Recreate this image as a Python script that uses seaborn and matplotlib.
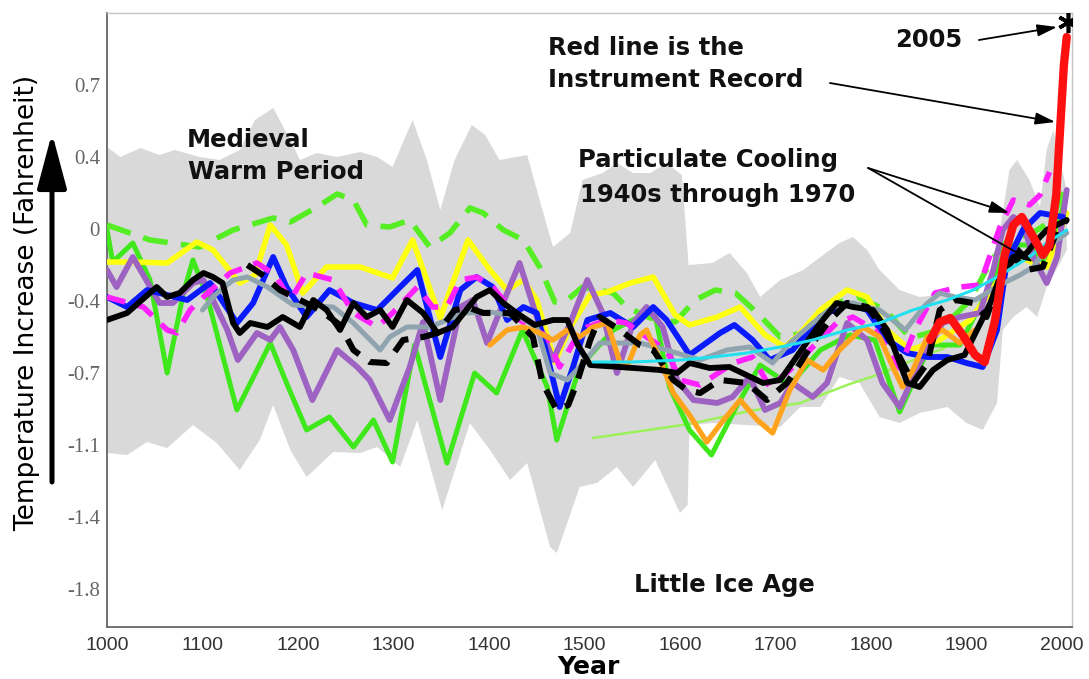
import numpy as np
import pandas as pd
import matplotlib
matplotlib.use("Agg")
import matplotlib.pyplot as plt
import seaborn as sns

sns.set_style("white")
plt.rcParams['font.family'] = ['DejaVu Sans']

# ---------------- data (year, temperature anomaly in deg F) ----------------
band_upper_years = [1000, 1014, 1035, 1055, 1071, 1097, 1118, 1139, 1155, 1174, 1192, 1202, 1220, 1241,
                    1265, 1283, 1299, 1320, 1335, 1349, 1364, 1382, 1396, 1411, 1440, 1453, 1467, 1485,
                    1498, 1519, 1534, 1551, 1569, 1586, 1602, 1609, 1634, 1652, 1670, 1684, 1705, 1729,
                    1747, 1767, 1781, 1796, 1809, 1830, 1851, 1872, 1893, 1914, 1928, 1935, 1945, 1953,
                    1966, 1977, 1984, 1991, 2005]
band_upper_temp = [0.41, 0.36, 0.405, 0.37, 0.395, 0.36, 0.345, 0.395, 0.545, 0.605, 0.445, 0.345, 0.38, 0.36,
                   0.385, 0.36, 0.31, 0.545, 0.345, 0.095, 0.345, 0.52, 0.47, 0.345, 0.37, 0.145, -0.09, -0.02,
                   0.245, 0.28, 0.33, 0.28, 0.28, 0.33, 0.27, -0.18, -0.17, -0.12, -0.22, -0.34, -0.255, -0.205,
                   -0.14, -0.07, -0.04, -0.105, -0.205, -0.305, -0.34, -0.33, -0.355, -0.355, -0.27, -0.005, 0.295, 0.345,
                   0.245, 0.11, 0.395, 0.495, 0.195]
band_lower_years = [1000, 1021, 1042, 1063, 1090, 1115, 1139, 1160, 1174, 1192, 1209, 1237, 1265, 1283,
                    1307, 1325, 1351, 1380, 1401, 1422, 1440, 1464, 1471, 1495, 1513, 1534, 1551, 1574,
                    1600, 1608, 1610, 1634, 1705, 1726, 1747, 1767, 1788, 1809, 1830, 1851, 1880, 1900,
                    1917, 1932, 1938, 1949, 1963, 1974, 1984, 1998, 2005]
band_lower_temp = [-1.12, -1.13, -1.065, -1.095, -0.98, -1.07, -1.205, -1.055, -0.88, -1.105, -1.24, -1.115, -1.12, -1.09,
                   -1.19, -0.955, -1.405, -0.97, -1.105, -1.255, -1.17, -1.59, -1.62, -1.29, -1.27, -1.19, -1.29, -1.155,
                   -1.42, -1.38, -0.98, -0.97, -0.99, -0.89, -0.89, -0.74, -0.77, -0.94, -0.97, -0.92, -0.89, -0.97,
                   -1.005, -0.87, -0.505, -0.44, -0.39, -0.44, -0.29, -0.17, -0.105]

green_solid_years = [1000, 1006, 1027, 1045, 1063, 1080, 1090, 1105, 1136, 1157, 1171, 1188, 1209, 1233, 1258,
                     1279, 1299, 1322, 1356, 1385, 1408, 1435, 1461, 1471, 1495, 1530, 1561, 1574, 1589, 1610,
                     1633, 1660, 1684, 1715, 1747, 1778, 1804, 1830, 1862, 1893, 1925, 1943, 1966, 1984, 2003]
green_solid_temp = [-0.005, -0.165, -0.07, -0.255, -0.72, -0.32, -0.155, -0.34, -0.905, -0.705, -0.57, -0.77, -1.005, -0.94, -1.09,
                    -0.955, -1.165, -0.58, -1.17, -0.72, -0.82, -0.505, -0.79, -1.055, -0.69, -0.505, -0.43, -0.43, -0.79, -1.005,
                    -1.13, -0.88, -0.68, -0.78, -0.605, -0.53, -0.555, -0.915, -0.58, -0.58, -0.28, -0.08, -0.08, -0.18, 0.145]

green_dash_years = [1000, 1045, 1097, 1132, 1174, 1192, 1220, 1241, 1258, 1272, 1296, 1317, 1338, 1359, 1380,
                    1394, 1415, 1436, 1453, 1469, 1482, 1498, 1530, 1544, 1569, 1595, 1616, 1637, 1658, 1681,
                    1705, 1731, 1757, 1786, 1815, 1841, 1872, 1904, 1925, 1945, 1966, 1987, 2003]
green_dash_temp = [0.02, -0.055, -0.09, -0.005, 0.055, 0.035, 0.11, 0.175, 0.145, 0.02, 0.01, 0.045, -0.09, -0.02, 0.105,
                   0.08, -0.005, -0.055, -0.19, -0.365, -0.355, -0.29, -0.32, -0.39, -0.445, -0.465, -0.355, -0.305, -0.32, -0.42,
                   -0.54, -0.52, -0.38, -0.34, -0.405, -0.545, -0.505, -0.355, -0.165, -0.045, -0.03, 0.035, 0.195]

yellow_years = [1000, 1027, 1063, 1094, 1111, 1139, 1155, 1171, 1188, 1205, 1230, 1265, 1299, 1320, 1349,
                1378, 1401, 1419, 1436, 1450, 1469, 1485, 1506, 1524, 1548, 1572, 1595, 1610, 1639, 1663,
                1689, 1710, 1726, 1747, 1775, 1796, 1817, 1841, 1872, 1904, 1930, 1951, 1970, 1984, 2005]
yellow_temp = [-0.165, -0.165, -0.17, -0.065, -0.105, -0.27, -0.23, 0.02, -0.08, -0.32, -0.19, -0.19, -0.245, -0.055, -0.445,
               -0.055, -0.205, -0.305, -0.255, -0.355, -0.665, -0.49, -0.33, -0.315, -0.27, -0.24, -0.43, -0.48, -0.44, -0.39,
               -0.53, -0.59, -0.52, -0.405, -0.305, -0.34, -0.505, -0.605, -0.555, -0.455, -0.28, -0.13, -0.17, -0.19, 0.08]

blue_years = [1000, 1021, 1042, 1084, 1108, 1118, 1136, 1153, 1174, 1188, 1209, 1233, 1258, 1283, 1307,
              1325, 1349, 1370, 1387, 1404, 1419, 1436, 1450, 1474, 1488, 1503, 1527, 1551, 1572, 1586,
              1610, 1642, 1657, 1676, 1694, 1718, 1747, 1775, 1796, 1817, 1838, 1859, 1880, 1900, 1917,
              1932, 1942, 1959, 1977, 2001]
blue_temp = [-0.34, -0.39, -0.305, -0.355, -0.27, -0.34, -0.47, -0.37, -0.14, -0.29, -0.44, -0.305, -0.37, -0.405, -0.29,
             -0.205, -0.64, -0.305, -0.24, -0.29, -0.455, -0.39, -0.42, -0.89, -0.69, -0.455, -0.42, -0.49, -0.39, -0.455,
             -0.63, -0.52, -0.48, -0.555, -0.655, -0.605, -0.44, -0.37, -0.405, -0.555, -0.62, -0.64, -0.64, -0.67, -0.69,
             -0.505, -0.17, -0.005, 0.08, 0.06]

magenta_years = [1000, 1038, 1063, 1073, 1087, 1101, 1129, 1157, 1176, 1192, 1209, 1237, 1258, 1283, 1299,
                 1325, 1341, 1356, 1370, 1387, 1404, 1432, 1461, 1474, 1488, 1503, 1524, 1544, 1565, 1586,
                 1600, 1621, 1656, 1676, 1694, 1715, 1739, 1764, 1781, 1804, 1830, 1846, 1867, 1893, 1914,
                 1935, 1949, 1966, 1977, 1987]
magenta_temp = [-0.34, -0.39, -0.505, -0.52, -0.405, -0.34, -0.22, -0.17, -0.23, -0.355, -0.22, -0.255, -0.42, -0.49, -0.42,
                -0.29, -0.39, -0.39, -0.255, -0.24, -0.29, -0.455, -0.54, -0.69, -0.57, -0.49, -0.455, -0.47, -0.54, -0.605,
                -0.755, -0.78, -0.67, -0.64, -0.79, -0.705, -0.59, -0.47, -0.44, -0.505, -0.695, -0.505, -0.32, -0.29, -0.28,
                0.01, 0.145, 0.12, 0.17, 0.285]

purple_years = [1000, 1010, 1027, 1055, 1069, 1090, 1101, 1126, 1137, 1157, 1171, 1181, 1195, 1215, 1241,
                1262, 1275, 1296, 1317, 1331, 1349, 1370, 1383, 1398, 1419, 1432, 1451, 1467, 1485, 1503,
                1519, 1534, 1551, 1565, 1582, 1597, 1614, 1639, 1655, 1673, 1689, 1705, 1718, 1739, 1754,
                1775, 1796, 1812, 1830, 1851, 1875, 1893, 1914, 1928, 1938, 1949, 1959, 1970, 1984, 1995, 2005]
purple_temp = [-0.205, -0.29, -0.14, -0.37, -0.37, -0.27, -0.255, -0.505, -0.655, -0.52, -0.555, -0.49, -0.605, -0.855, -0.605,
               -0.69, -0.755, -0.955, -0.69, -0.465, -0.855, -0.39, -0.355, -0.57, -0.32, -0.17, -0.455, -0.655, -0.47, -0.255,
               -0.42, -0.72, -0.47, -0.39, -0.49, -0.755, -0.855, -0.87, -0.84, -0.74, -0.905, -0.87, -0.77, -0.84, -0.77,
               -0.47, -0.555, -0.77, -0.89, -0.67, -0.47, -0.44, -0.42, -0.205, -0.005, 0.06, 0.03, -0.14, -0.27, -0.14, 0.195]

slate_years = [1100, 1113, 1132, 1147, 1168, 1195, 1237, 1258, 1286, 1296, 1314, 1338, 1356, 1373, 1401,
               1432, 1450, 1464, 1482, 1495, 1516, 1558, 1586, 1621, 1649, 1673, 1697, 1715, 1739, 1760,
               1781, 1809, 1836, 1857, 1872, 1888, 1909, 1935, 1956, 1970, 1984, 2005]
slate_temp = [-0.405, -0.33, -0.255, -0.24, -0.29, -0.38, -0.39, -0.47, -0.605, -0.54, -0.49, -0.49, -0.455, -0.42, -0.415,
              -0.44, -0.49, -0.72, -0.755, -0.69, -0.57, -0.57, -0.605, -0.655, -0.605, -0.59, -0.67, -0.57, -0.47, -0.39,
              -0.37, -0.405, -0.505, -0.38, -0.32, -0.34, -0.355, -0.28, -0.23, -0.19, -0.09, -0.02]

orange_years = [1401, 1419, 1436, 1453, 1467, 1482, 1495, 1509, 1524, 1537, 1544, 1558, 1565, 1579, 1593,
                1610, 1628, 1644, 1663, 1681, 1697, 1715, 1733, 1750, 1767, 1792, 1809, 1823, 1833, 1844,
                1859, 1875, 1893, 1909]
orange_temp = [-0.58, -0.505, -0.49, -0.52, -0.555, -0.505, -0.54, -0.49, -0.47, -0.665, -0.695, -0.53, -0.505, -0.655, -0.82,
               -0.93, -1.065, -0.965, -0.855, -0.955, -1.02, -0.805, -0.655, -0.705, -0.605, -0.49, -0.54, -0.69, -0.79, -0.705,
               -0.54, -0.505, -0.57, -0.505]

black_years = [1000, 1021, 1052, 1063, 1076, 1090, 1101, 1111, 1121, 1132, 1139, 1150, 1168, 1184, 1202,
               1216, 1230, 1244, 1258, 1272, 1286, 1299, 1314, 1331, 1346, 1362, 1387, 1401, 1415, 1429,
               1448, 1467, 1482, 1493, 1506, 1537, 1579, 1597, 1610, 1631, 1652, 1687, 1705, 1722, 1747,
               1764, 1781, 1802, 1817, 1838, 1851, 1865, 1880, 1898, 1925, 1935, 1949, 1963, 1974, 1984, 2005]
black_temp = [-0.455, -0.42, -0.29, -0.34, -0.32, -0.255, -0.22, -0.24, -0.27, -0.47, -0.52, -0.47, -0.49, -0.44, -0.49,
              -0.355, -0.405, -0.505, -0.37, -0.44, -0.405, -0.49, -0.355, -0.42, -0.52, -0.49, -0.34, -0.305, -0.37, -0.42,
              -0.48, -0.455, -0.455, -0.58, -0.68, -0.69, -0.705, -0.72, -0.67, -0.695, -0.69, -0.77, -0.755, -0.64, -0.47,
              -0.37, -0.39, -0.405, -0.505, -0.77, -0.79, -0.705, -0.655, -0.63, -0.37, -0.24, -0.155, -0.12, -0.055, -0.005, 0.045]

black_dash_years = [1147, 1163, 1181, 1202, 1223, 1244, 1258, 1275, 1293, 1310, 1331, 1346, 1364, 1380, 1394,
                    1422, 1446, 1456, 1471, 1483, 1492, 1506, 1516, 1537, 1558, 1572, 1593, 1607, 1621, 1642,
                    1670, 1691, 1712, 1726, 1739, 1757, 1775, 1796, 1809, 1830, 1844, 1859, 1872, 1888, 1907,
                    1921, 1935, 1949, 1963, 1980, 1995, 2005]
black_dash_temp = [-0.18, -0.23, -0.305, -0.355, -0.405, -0.48, -0.605, -0.665, -0.67, -0.555, -0.54, -0.52, -0.405, -0.395, -0.42,
                   -0.42, -0.54, -0.77, -0.905, -0.88, -0.77, -0.555, -0.44, -0.505, -0.58, -0.605, -0.755, -0.805, -0.82, -0.755,
                   -0.77, -0.855, -0.77, -0.67, -0.57, -0.455, -0.37, -0.39, -0.47, -0.64, -0.77, -0.67, -0.405, -0.355, -0.37,
                   -0.44, -0.255, -0.14, -0.205, -0.19, -0.005, 0.045]

cyan_years = [1509, 1551, 1600, 1635, 1670, 1705, 1739, 1775, 1809, 1844, 1880, 1907, 1932, 1949, 1966, 1984, 2005]
cyan_temp = [-0.665, -0.665, -0.655, -0.64, -0.62, -0.59, -0.555, -0.505, -0.47, -0.405, -0.355, -0.305, -0.24, -0.19, -0.14, -0.07, -0.005]

lightgreen_years = [1509, 1610, 1673, 1726, 1775, 1809, 1844, 1877]
lightgreen_temp = [-1.045, -0.975, -0.91, -0.87, -0.78, -0.725, -0.655, -0.595]

red_years = [1862, 1872, 1883, 1896, 1909, 1919, 1930, 1940, 1949, 1958, 1970, 1980, 1987, 1994, 1998, 2002, 2005]
red_temp = [-0.555, -0.465, -0.445, -0.53, -0.63, -0.665, -0.455, -0.13, 0.02, 0.06, -0.04, -0.13, -0.08, 0.17, 0.495, 0.82, 0.96]

ytick_pos = [0.72, 0.36, 0.0, -0.36, -0.72, -1.08, -1.44, -1.8]
ytick_labels = ["0.7", "0.4", "0", "-0.4", "-0.7", "-1.1", "-1.4", "-1.8"]
xtick_pos = [1000, 1100, 1200, 1300, 1400, 1500, 1600, 1700, 1800, 1900, 2000]

# ---------------- figure ----------------
W, H = 1089, 679
fig = plt.figure(figsize=(W / 100, H / 100), dpi=100)
ax = fig.add_axes([107 / W, 1 - 627 / H, (1072 - 107) / W, (627 - 13) / H])

# uncertainty band
ax.fill(np.r_[band_upper_years, band_lower_years[::-1]],
        np.r_[band_upper_temp, band_lower_temp[::-1]],
        color="#d9d9d9", lw=0, zorder=1)

series = [
    (lightgreen_years, lightgreen_temp, "#9cf25a", 1.8, "-"),
    (green_solid_years, green_solid_temp, "#3fe81a", 3.6, "-"),
    (green_dash_years, green_dash_temp, "#55ee22", 4.0, (0, (4.5, 2.4))),
    (yellow_years, yellow_temp, "#ffff10", 4.0, "-"),
    (purple_years, purple_temp, "#9d62c2", 4.2, "-"),
    (blue_years, blue_temp, "#0a1aff", 4.2, "-"),
    (magenta_years, magenta_temp, "#ff22ff", 4.0, (0, (3.4, 2.2))),
    (slate_years, slate_temp, "#8fa4ae", 3.6, "-"),
    (orange_years, orange_temp, "#ffa41c", 3.8, "-"),
    (black_years, black_temp, "#000000", 4.2, "-"),
    (black_dash_years, black_dash_temp, "#000000", 4.4, (0, (3.2, 2.0))),
    (cyan_years, cyan_temp, "#22e0f0", 2.2, "-"),
    (red_years, red_temp, "#ff1010", 6.0, "-"),
]
for i, (xs, ys, col, lw, ls) in enumerate(series):
    df = pd.DataFrame({"year": xs, "temp": ys})
    sns.lineplot(data=df, x="year", y="temp", ax=ax, color=col, linewidth=lw,
                 linestyle=ls, zorder=2 + i, estimator=None, sort=False,
                 solid_joinstyle="round", solid_capstyle="round",
                 dash_capstyle="butt", dash_joinstyle="round")

# 2005 star
ax.plot([2006], [1.035], marker=(6, 2, 0), ms=15, mew=2.6, color="k", zorder=30)

ax.set_xlim(1000, 2010.5)
ax.set_ylim(-1.99, 1.08)
ax.set_xticks(xtick_pos)
ax.set_xticklabels([str(v) for v in xtick_pos], fontsize=14, color="#333333",
                   family="Liberation Sans")
ax.set_yticks(ytick_pos)
ax.set_yticklabels(ytick_labels, fontsize=15, color="#666666", family="Liberation Serif")
ax.tick_params(axis="both", direction="in", length=7, width=1.1, color="#777777")
ax.tick_params(axis="y", pad=5)
ax.tick_params(axis="x", pad=7)
ax.set_xlabel("")
ax.set_ylabel("")

for side in ["left", "bottom"]:
    ax.spines[side].set_color("#666666")
    ax.spines[side].set_linewidth(1.3)
for side in ["top", "right"]:
    ax.spines[side].set_color("#c4c4c4")
    ax.spines[side].set_linewidth(1.0)
ax.spines["top"].set_visible(True)
ax.spines["right"].set_visible(True)

# annotations
tfont = dict(family="DejaVu Sans", weight="bold", fontsize=17.5, color="#111111")
ax.text(1084, 0.445, "Medieval", ha="left", va="center", **tfont)
ax.text(1085, 0.285, "Warm Period", ha="left", va="center", **tfont)
ax.text(1462, 0.905, "Red line is the", ha="left", va="center", **tfont)
ax.text(1462, 0.745, "Instrument Record", ha="left", va="center", **tfont)
ax.text(1825, 0.945, "2005", ha="left", va="center", **tfont)
ax.text(1493, 0.345, "Particulate Cooling", ha="left", va="center", **tfont)
ax.text(1495, 0.17, "1940s through 1970", ha="left", va="center", **tfont)
ax.text(1552, -1.78, "Little Ice Age", ha="left", va="center", **tfont)

aprops = dict(arrowstyle="-|>,head_length=0.6,head_width=0.18", color="k", lw=1.3,
              mutation_scale=20, shrinkA=0, shrinkB=0)
ax.annotate("", xy=(1995, 1.01), xytext=(1913, 0.945), arrowprops=aprops, zorder=31)
ax.annotate("", xy=(1993, 0.535), xytext=(1757, 0.73), arrowprops=aprops, zorder=31)
ax.annotate("", xy=(1945, 0.08), xytext=(1797, 0.305), arrowprops=aprops, zorder=31)
ax.annotate("", xy=(1970, -0.165), xytext=(1797, 0.305), arrowprops=aprops, zorder=31)

# axis titles
fig.text(27 / W, 1 - 303 / H, "Temperature Increase (Fahrenheit)", rotation=90,
         ha="center", va="center", fontsize=19, color="black", family="DejaVu Sans")
fig.text(588 / W, 1 - 667 / H, "Year", ha="center", va="center", fontsize=18,
         weight="bold", color="black", family="DejaVu Sans")

# upward arrow next to the y label
fig.add_artist(matplotlib.patches.FancyArrowPatch(
    (52 / W, 1 - 482 / H), (52 / W, 1 - 133 / H), transform=fig.transFigure,
    arrowstyle="-|>,head_length=1.35,head_width=0.36", mutation_scale=25,
    lw=3.6, color="k", shrinkA=0, shrinkB=0))

fig.savefig("out.png", dpi=100)
